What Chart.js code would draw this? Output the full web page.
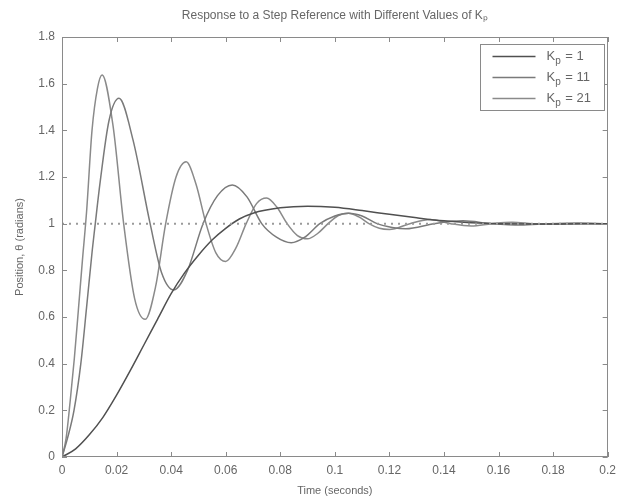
<!DOCTYPE html>
<html>
<head>
<meta charset="utf-8">
<title>Step response for different Kp</title>
<script src="https://cdn.jsdelivr.net/npm/chart.js@4.4.1/dist/chart.umd.min.js"></script>
<style>
  html, body { margin: 0; padding: 0; background: #fff; }
  #wrap { width: 622px; height: 502px; }
</style>
</head>
<body>
<div id="wrap"><canvas id="stepChart" width="622" height="502"></canvas></div>
<script>
// values (time in s, position in rad)
const gains = [1, 11, 21];

const timeKp1 = [0, 0.005, 0.01, 0.015, 0.02, 0.025, 0.03, 0.035, 0.04, 0.045, 0.05, 0.055, 0.06, 0.065,
  0.07, 0.08, 0.09, 0.1, 0.11, 0.12, 0.13, 0.14, 0.15, 0.16, 0.18, 0.2];
const posKp1 = [0, 0.035, 0.095, 0.17, 0.265, 0.37, 0.48, 0.59, 0.70, 0.79, 0.865, 0.93, 0.98, 1.02,
  1.045, 1.068, 1.075, 1.07, 1.056, 1.04, 1.025, 1.012, 1.004, 1.0, 0.999, 1.0];

const timeKp11 = [0, 0.002, 0.0044, 0.0069, 0.009, 0.0111, 0.012, 0.014, 0.0172, 0.0209, 0.026, 0.0323,
  0.0365, 0.041, 0.046, 0.0517, 0.057, 0.0624, 0.0678, 0.0732, 0.0786, 0.084, 0.089, 0.0945, 0.1, 0.105,
  0.11, 0.1155, 0.121, 0.126, 0.1365, 0.147, 0.1575, 0.168, 0.1785, 0.189, 0.2];
const posKp11 = [0, 0.08, 0.2, 0.4, 0.64, 0.887, 0.98, 1.18, 1.44, 1.537, 1.36, 1.0,
  0.79, 0.716, 0.80, 1.0, 1.12, 1.166, 1.115, 1.0, 0.942, 0.918, 0.942, 1.0, 1.033, 1.045,
  1.033, 1.0, 0.984, 0.978, 1.0, 1.012, 1.0, 0.994, 1.0, 1.003, 1.0];

const timeKp21 = [0, 0.0015, 0.003, 0.0045, 0.006, 0.0075, 0.009, 0.011, 0.013, 0.0147, 0.0187, 0.0226,
  0.0266, 0.0305, 0.0343, 0.038, 0.0418, 0.0455, 0.0491, 0.0528, 0.0564, 0.06, 0.0638, 0.0675, 0.0713,
  0.075, 0.0788, 0.0825, 0.0863, 0.09, 0.0938, 0.0975, 0.1013, 0.105, 0.1088, 0.1125, 0.1163, 0.12,
  0.1275, 0.135, 0.1425, 0.15, 0.1575, 0.165, 0.1725, 0.18, 0.19, 0.2];
const posKp21 = [0, 0.08, 0.24, 0.42, 0.63, 0.845, 1.05, 1.40, 1.58, 1.637, 1.42, 1.0,
  0.68, 0.59, 0.73, 1.0, 1.2, 1.265, 1.17, 1.0, 0.875, 0.838, 0.897, 1.0, 1.086,
  1.11, 1.07, 1.0, 0.949, 0.935, 0.959, 1.0, 1.035, 1.045, 1.029, 1.0, 0.98, 0.975,
  1.0, 1.018, 1.0, 0.99, 1.0, 1.006, 1.0, 0.997, 1.0, 1.0];

// dotted step reference
const refTime = [0, 0.2];
const refPos = [1, 1];

const xTickLabels = ['0', '0.02', '0.04', '0.06', '0.08', '0.1', '0.12', '0.14', '0.16', '0.18', '0.2'];
const yTickLabels = ['0', '0.2', '0.4', '0.6', '0.8', '1', '1.2', '1.4', '1.6', '1.8'];

const lineColors = ['#505050', '#7a7a7a', '#8a8a8a'];
const FONT = 'Liberation Sans, Arial, Helvetica, sans-serif';
const TEXT = '#666';

function pts(xs, ys) {
  return xs.map((t, i) => ({x: t, y: ys[i]}));
}

const series = [pts(timeKp1, posKp1), pts(timeKp11, posKp11), pts(timeKp21, posKp21)];

const datasets = series.map((d, i) => ({
  label: 'K\u209A = ' + gains[i],
  gain: gains[i],
  data: d,
  borderColor: lineColors[i],
  borderWidth: 1.5,
  pointRadius: 0,
  cubicInterpolationMode: 'monotone',
  fill: false
}));
datasets.unshift({
  label: 'reference',
  isReference: true,
  data: pts(refTime, refPos),
  borderColor: '#9a9a9a',
  borderWidth: 2,
  borderDash: [2, 5],
  pointRadius: 0,
  fill: false
});

// box, inward ticks and legend in MATLAB style
const frameAndLegend = {
  id: 'frameAndLegend',
  afterDraw(chart) {
    const {ctx, chartArea: a, scales: {x, y}} = chart;
    ctx.save();
    ctx.strokeStyle = '#8a8a8a';
    ctx.lineWidth = 1;
    ctx.setLineDash([]);
    ctx.strokeRect(Math.round(a.left) + 0.5, Math.round(a.top) + 0.5,
      Math.round(a.right - a.left) - 1, Math.round(a.bottom - a.top) - 1);

    ctx.beginPath();
    x.ticks.forEach(t => {
      const px = Math.round(x.getPixelForValue(t.value)) + 0.5;
      ctx.moveTo(px, a.bottom); ctx.lineTo(px, a.bottom - 5);
      ctx.moveTo(px, a.top); ctx.lineTo(px, a.top + 5);
    });
    y.ticks.forEach(t => {
      const py = Math.round(y.getPixelForValue(t.value)) + 0.5;
      ctx.moveTo(a.left, py); ctx.lineTo(a.left + 5, py);
      ctx.moveTo(a.right, py); ctx.lineTo(a.right - 5, py);
    });
    ctx.stroke();

    // legend
    const items = chart.data.datasets.filter(d => !d.isReference);
    const boxW = 124, rowH = 21;
    const bx = Math.round(a.right) - 4 - boxW + 0.5;
    const by = Math.round(a.top) + 7 + 0.5;
    const bh = rowH * items.length + 3;
    ctx.fillStyle = '#fff';
    ctx.fillRect(bx, by, boxW, bh);
    ctx.strokeStyle = '#8a8a8a';
    ctx.strokeRect(bx, by, boxW, bh);

    items.forEach((d, i) => {
      const cy = by + 12 + i * rowH;
      ctx.strokeStyle = d.borderColor;
      ctx.lineWidth = d.borderWidth;
      ctx.beginPath();
      ctx.moveTo(bx + 12, cy);
      ctx.lineTo(bx + 55, cy);
      ctx.stroke();

      ctx.fillStyle = TEXT;
      ctx.textBaseline = 'middle';
      ctx.textAlign = 'left';
      let tx = bx + 66;
      ctx.font = '13px ' + FONT;
      ctx.fillText('K', tx, cy);
      tx += ctx.measureText('K').width;
      ctx.font = '10px ' + FONT;
      ctx.fillText('p', tx, cy + 5);
      tx += ctx.measureText('p').width + 1;
      ctx.font = '13px ' + FONT;
      ctx.fillText(' = ' + d.gain, tx, cy);
    });
    ctx.restore();
  }
};

const ctx = document.getElementById('stepChart').getContext('2d');
const stepChart = new Chart(ctx, {
  type: 'line',
  data: {datasets: datasets},
  options: {
    responsive: false,
    animation: false,
    devicePixelRatio: 1,
    layout: {padding: {left: 0, right: 4, top: 0, bottom: 0}},
    plugins: {
      legend: {display: false},
      tooltip: {enabled: false},
      title: {
        display: true,
        fullSize: false,
        text: 'Response to a Step Reference with Different Values of K\u209A',
        color: TEXT,
        font: {family: FONT, size: 12, weight: 'normal'},
        padding: {top: 8, bottom: 14.6}
      }
    },
    scales: {
      x: {
        type: 'linear',
        min: 0,
        max: 0.2,
        grid: {display: false, drawTicks: false},
        border: {display: false},
        ticks: {
          stepSize: 0.02,
          padding: 6,
          color: TEXT,
          font: {family: FONT, size: 12},
          maxRotation: 0,
          callback: v => xTickLabels[Math.round(v / 0.02)]
        },
        title: {
          display: true,
          text: 'Time (seconds)',
          color: TEXT,
          font: {family: FONT, size: 11},
          padding: {top: 4, bottom: 4}
        },
        afterFit: s => { s.height = 45; }
      },
      y: {
        type: 'linear',
        min: 0,
        max: 1.8,
        grid: {display: false, drawTicks: false},
        border: {display: false},
        ticks: {
          stepSize: 0.2,
          padding: 7,
          color: TEXT,
          font: {family: FONT, size: 12},
          callback: v => yTickLabels[Math.round(v / 0.2)]
        },
        title: {
          display: true,
          text: 'Position, \u03B8 (radians)',
          color: TEXT,
          font: {family: FONT, size: 11},
          padding: {top: 13, bottom: 4}
        },
        afterFit: s => { s.width = 62; }
      }
    }
  },
  plugins: [frameAndLegend]
});
</script>
</body>
</html>
